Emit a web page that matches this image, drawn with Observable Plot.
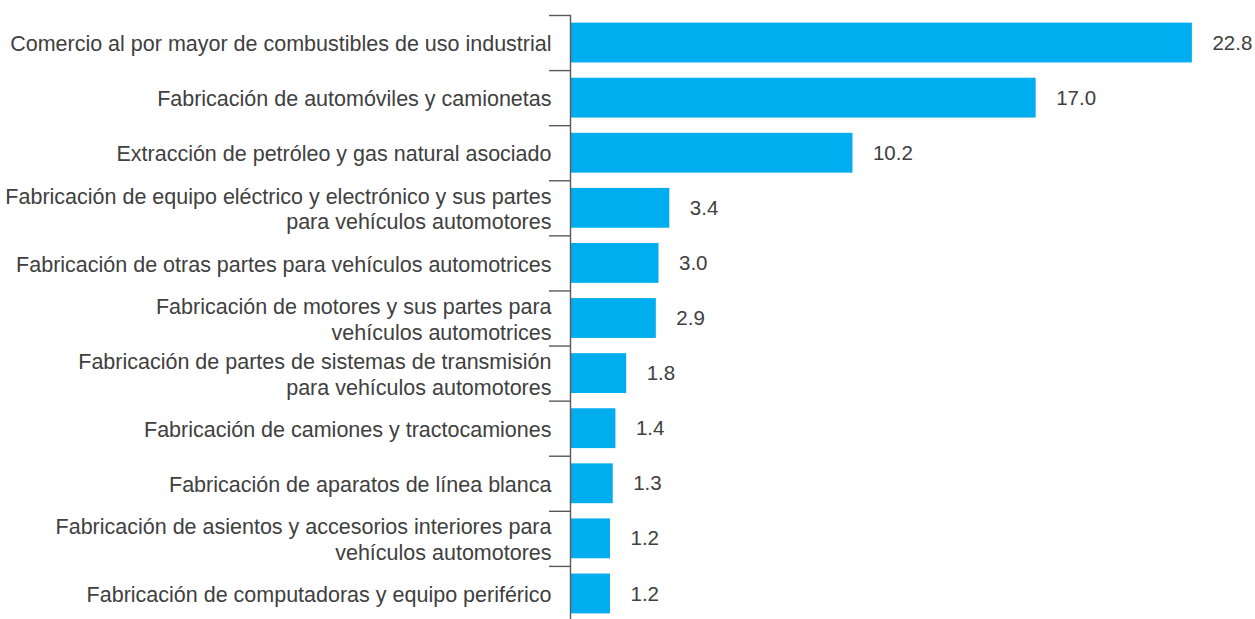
<!DOCTYPE html>
<html>
<head>
<meta charset="utf-8">
<script src="https://cdn.jsdelivr.net/npm/d3@7"></script>
<script src="https://cdn.jsdelivr.net/npm/@observablehq/plot@0.6"></script>
<style>
  html, body { margin: 0; padding: 0; background: #ffffff; }
  #chart svg { display: block; }
</style>
</head>
<body>
<div id="chart"></div>
<script>
const categories = [
  "Comercio al por mayor de combustibles de uso industrial",
  "Fabricación de automóviles y camionetas",
  "Extracción de petróleo y gas natural asociado",
  "Fabricación de equipo eléctrico y electrónico y sus partes\npara vehículos automotores",
  "Fabricación de otras partes para vehículos automotrices",
  "Fabricación de motores y sus partes para\nvehículos automotrices",
  "Fabricación de partes de sistemas de transmisión\npara vehículos automotores",
  "Fabricación de camiones y tractocamiones",
  "Fabricación de aparatos de línea blanca",
  "Fabricación de asientos y accesorios interiores para\nvehículos automotores",
  "Fabricación de computadoras y equipo periférico"
];
const values = [22.8, 17.0, 10.2, 3.4, 3.0, 2.9, 1.8, 1.4, 1.3, 1.2, 1.2];

const data = categories.map((c, i) => ({category: c, value: values[i]}));

const W = 1255, H = 619;
const yTop = 15, yBottom = 621;
const step = (yBottom - yTop) / categories.length;
const textColor = "#404040";
const axisColor = "#595959";
const barColor = "#00AEEF";

const chart = Plot.plot({
  width: W,
  height: H,
  marginLeft: 570,
  marginRight: 0,
  marginTop: yTop,
  marginBottom: 0,
  style: {fontFamily: "'Liberation Sans', Arial, sans-serif", background: "#ffffff", overflow: "visible"},
  x: {domain: [0, 22.8], range: [577.7, 1191.9], axis: null},
  y: {domain: categories, range: [yTop, yBottom], paddingInner: 0.277, paddingOuter: 0.1385, round: false, axis: null},
  marks: [
    Plot.barX(data, {x: "value", y: "category", fill: barColor, insetLeft: -7.7}),
    Plot.frame({anchor: "left", stroke: axisColor, strokeWidth: 1.4}),
    Plot.axisY({tickSize: 21, tickFormat: () => "", dy: -step / 2, stroke: axisColor, strokeWidth: 1.4, label: null}),
    Plot.text(data, {y: "category", text: "category", frameAnchor: "left", dx: -19, textAnchor: "end", fontSize: 21.5, lineHeight: 1.2, fill: textColor}),
    Plot.text(data, {x: "value", y: "category", text: d => d.value.toFixed(1), dx: 20, textAnchor: "start", fontSize: 20.5, fill: textColor})
  ]
});
document.getElementById("chart").appendChild(chart);
</script>
</body>
</html>
